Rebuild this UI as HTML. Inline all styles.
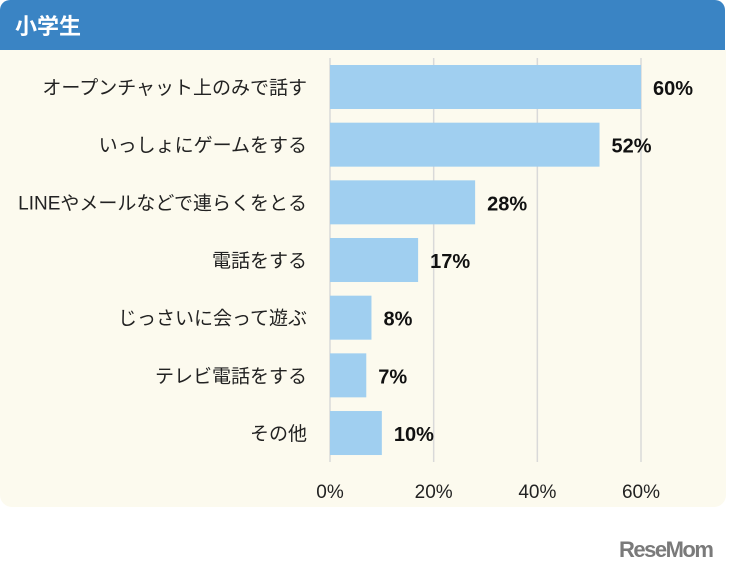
<!DOCTYPE html>
<html><head><meta charset="utf-8"><style>
body{margin:0;width:729px;height:571px;background:#fff;overflow:hidden;font-family:"Liberation Sans","Noto Sans CJK JP",sans-serif}
#hdr{position:absolute;left:0;top:0;width:725px;height:50px;background:#3a84c4;border-radius:10px 10px 0 0}
#hdr span{position:absolute;left:15px;top:9px;color:#fff;font-weight:bold;font-size:22px}
#panel{position:absolute;left:0;top:50px;width:726px;height:457px;background:#fcfaee;border-radius:0 0 12px 12px}
#logo{position:absolute;left:619px;top:537px;font-size:22px;font-weight:bold;color:#7a7a7a;letter-spacing:-1.5px}
</style></head><body>
<div id="hdr"><span>小学生</span></div>
<div id="panel"></div>
<svg id="chart" width="729" height="571" style="position:absolute;left:0;top:0"></svg>
<div id="logo">ReseMom</div>
<script>
const categories=["オープンチャット上のみで話す","いっしょにゲームをする","LINEやメールなどで連らくをとる","電話をする","じっさいに会って遊ぶ","テレビ電話をする","その他"];
const values=[60,52,28,17,8,7,10];
const ticks=[0,20,40,60];
const tickLabels=["0%","20%","40%","60%"];
const NS="http://www.w3.org/2000/svg";
const svg=document.getElementById('chart');
const x=v=>330+v*(311/60);
const y=i=>65+i*57.67;
function mk(t,a){const e=document.createElementNS(NS,t);for(const k in a)e.setAttribute(k,a[k]);svg.appendChild(e);return e;}
ticks.forEach((t,i)=>{
 const l=mk('line',{x1:x(t),x2:x(t),y1:58,y2:462,stroke:'#d9d9d9','stroke-width':1.5});
 
 
 const tx=mk('text',{x:x(t),y:498,'text-anchor':'middle','font-size':19,fill:'#222'});
 tx.textContent=tickLabels[i];
 
 
});
categories.forEach((c,i)=>{
 const r=mk('rect',{x:x(0),y:y(i),width:x(values[i])-x(0),height:44,fill:'#a0cff0'});
 
 
 const lb=mk('text',{x:307,y:y(i)+29,'text-anchor':'end','font-size':19,fill:'#222'});
 lb.textContent=c;
 
 
 const v=mk('text',{x:x(values[i])+12,y:y(i)+30,'font-size':20,'font-weight':'bold',fill:'#111'});
 v.textContent=values[i]+'%';
 
 
});
</script>
</body></html>
